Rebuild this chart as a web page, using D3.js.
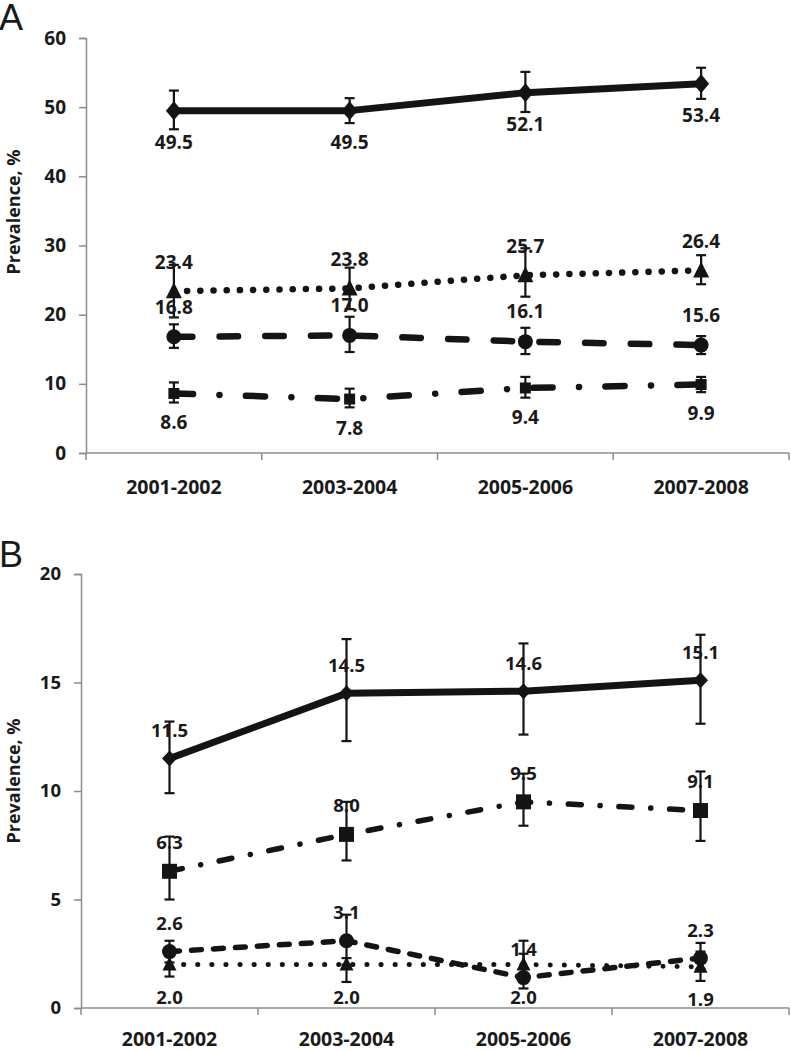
<!DOCTYPE html>
<html><head><meta charset="utf-8">
<script src="https://cdn.jsdelivr.net/npm/d3@7"></script>
<style>
html,body{margin:0;padding:0;background:#fff;}
svg{display:block;}
text{font-family:'Open Sans',sans-serif;font-weight:700;fill:#1a1a1a;}
</style></head>
<body>
<svg id="chart" width="791" height="1050"></svg>
<script>
// ---------- data ----------
const categories = ["2001-2002", "2003-2004", "2005-2006", "2007-2008"];

const ticksA = [0, 10, 20, 30, 40, 50, 60];
const aDiamond   = [49.5, 49.5, 52.1, 53.4];
const aDiamondLo = [46.8, 47.7, 49.3, 51.2];
const aDiamondHi = [52.4, 51.3, 55.1, 55.7];
const aTriangle   = [23.4, 23.8, 25.7, 26.4];
const aTriangleLo = [19.6, 20.8, 22.6, 24.4];
const aTriangleHi = [27.2, 26.8, 29.6, 28.6];
const aCircle   = [16.8, 17.0, 16.1, 15.6];
const aCircleLo = [15.2, 14.6, 14.3, 14.3];
const aCircleHi = [18.6, 19.7, 18.1, 16.9];
const aSquare   = [8.6, 7.8, 9.4, 9.9];
const aSquareLo = [7.3, 6.6, 8.0, 8.8];
const aSquareHi = [10.2, 9.3, 11.0, 11.0];

const ticksB = [0, 5, 10, 15, 20];
const bDiamond   = [11.5, 14.5, 14.6, 15.1];
const bDiamondLo = [9.9, 12.3, 12.6, 13.1];
const bDiamondHi = [13.2, 17.0, 16.8, 17.2];
const bSquare   = [6.3, 8.0, 9.5, 9.1];
const bSquareLo = [5.0, 6.8, 8.4, 7.7];
const bSquareHi = [7.9, 9.5, 10.8, 10.9];
const bCircle   = [2.6, 3.1, 1.4, 2.3];
const bCircleLo = [2.1, 2.0, 0.9, 1.8];
const bCircleHi = [3.1, 4.3, 3.1, 3.0];
const bTriangle   = [2.0, 2.0, 2.0, 1.9];
const bTriangleLo = [1.45, 1.2, 1.5, 1.25];
const bTriangleHi = [2.6, 2.3, 2.5, 2.6];

const yTitle = "Prevalence, %";

// ---------- drawing ----------
const svg = d3.select("#chart");
const INK = "#141414";
const AXIS = "#8c8c8c";

function shapePath(kind, s) {
  const p = d3.path();
  if (kind === "diamond") {
    const w = s.w / 2, h = s.h / 2;
    p.moveTo(0, -h); p.lineTo(w, 0); p.lineTo(0, h); p.lineTo(-w, 0); p.closePath();
  } else if (kind === "triangle") {
    const w = s.w / 2, h = s.h / 2;
    p.moveTo(0, -h - 1); p.lineTo(w, h - 1); p.lineTo(-w, h - 1); p.closePath();
  } else if (kind === "square") {
    const w = s.w / 2;
    p.rect(-w, -w, s.w, s.w);
  } else {
    p.arc(0, 0, s.w / 2, 0, 2 * Math.PI);
  }
  return p.toString();
}

function panel(cfg) {
  const g = svg.append("g");
  const x = d3.scaleBand().domain(categories).range([cfg.left, cfg.right]).padding(0);
  const y = d3.scaleLinear().domain([0, cfg.max]).range([cfg.bottom, cfg.top]);

  // y axis
  const ya = g.append("g").attr("transform", `translate(${cfg.left},0)`)
    .call(d3.axisLeft(y).tickValues(cfg.ticks).tickSize(7).tickPadding(cfg.tickPad).tickFormat(d3.format("d")));
  ya.select(".domain").attr("stroke", AXIS).attr("stroke-width", 1.5);
  ya.selectAll(".tick line").attr("stroke", AXIS).attr("stroke-width", 1.5);
  ya.selectAll(".tick text").attr("font-size", cfg.tickFont).attr("font-family", "'Open Sans',sans-serif")
    .attr("font-weight", 700).attr("fill", "#1a1a1a");

  // x axis (ticks at category boundaries)
  g.append("line").attr("x1", cfg.left).attr("x2", cfg.right).attr("y1", y(0)).attr("y2", y(0))
    .attr("stroke", AXIS).attr("stroke-width", 1.5);
  const edges = categories.map(c => x(c)).concat([x.range()[1]]);
  g.selectAll(".xt").data(edges).enter().append("line")
    .attr("x1", d => d).attr("x2", d => d).attr("y1", y(0)).attr("y2", y(0) + 7)
    .attr("stroke", AXIS).attr("stroke-width", 1.5);
  g.selectAll(".xl").data(categories).enter().append("text")
    .attr("x", d => x(d) + x.bandwidth() / 2).attr("y", y(0) + cfg.xLabelDy)
    .attr("text-anchor", "middle").attr("font-size", 19.5).text(d => d);

  // axis title
  g.append("text").attr("transform", `translate(${cfg.titleX},${cfg.titleY}) rotate(-90)`)
    .attr("text-anchor", "middle").attr("font-size", 18).text(yTitle);

  // panel letter
  g.append("text").attr("x", cfg.letterX).attr("y", cfg.letterY).attr("font-size", 36)
    .style("font-family", "'Liberation Sans',Arial,sans-serif").style("font-weight", 400)
    .attr("fill", "#1a1a1a").text(cfg.letter);

  const cx = c => x(c) + x.bandwidth() / 2;

  // lines
  cfg.series.forEach(s => {
    const line = d3.line().x((d, i) => cx(categories[i])).y(d => y(d));
    g.append("path").datum(s.values).attr("d", line).attr("fill", "none")
      .attr("stroke", INK).attr("stroke-width", s.width)
      .attr("stroke-linecap", s.dash ? "round" : "butt")
      .attr("stroke-linejoin", "round")
      .attr("stroke-dasharray", s.dash || null);
  });

  // markers + error bars
  cfg.series.forEach(s => {
    s.values.forEach((v, i) => {
      g.append("path").attr("d", shapePath(s.marker, s.size))
        .attr("transform", `translate(${cx(categories[i])},${y(v)})`).attr("fill", INK);
    });
  });
  cfg.series.forEach(s => {
    s.values.forEach((v, i) => {
      const xx = cx(categories[i]);
      const eg = g.append("g").attr("stroke", INK).attr("stroke-width", 2.2);
      eg.append("line").attr("x1", xx).attr("x2", xx).attr("y1", y(s.lo[i])).attr("y2", y(s.hi[i]));
      eg.append("line").attr("x1", xx - 5).attr("x2", xx + 5).attr("y1", y(s.lo[i])).attr("y2", y(s.lo[i]));
      eg.append("line").attr("x1", xx - 5).attr("x2", xx + 5).attr("y1", y(s.hi[i])).attr("y2", y(s.hi[i]));
    });
  });

  // data labels
  cfg.series.forEach(s => {
    g.selectAll(null).data(s.values).enter().append("text")
      .attr("x", (d, i) => cx(categories[i]))
      .attr("y", d => y(d) + s.labelDy + cfg.labelFont * 0.36)
      .attr("text-anchor", "middle").attr("font-size", cfg.labelFont)
      .text(d => d.toFixed(1));
  });
}

panel({
  letter: "A", letterX: -1, letterY: 30,
  left: 86, right: 789, top: 38, bottom: 453, max: 60, ticks: ticksA,
  tickPad: 13, tickFont: 19, labelFont: 19, xLabelDy: 41,
  titleX: 20, titleY: 212,
  series: [
    {values: aDiamond, lo: aDiamondLo, hi: aDiamondHi, marker: "diamond", size: {w: 16, h: 19}, width: 7, dash: null, labelDy: 32},
    {values: aTriangle, lo: aTriangleLo, hi: aTriangleHi, marker: "triangle", size: {w: 16, h: 16}, width: 6.5, dash: "0.1,13.1", labelDy: -29},
    {values: aCircle, lo: aCircleLo, hi: aCircleHi, marker: "circle", size: {w: 15}, width: 6.5, dash: "18.5,27.2", labelDy: -30},
    {values: aSquare, lo: aSquareLo, hi: aSquareHi, marker: "square", size: {w: 11}, width: 6.5, dash: "19.2,26.35,0.1,26.35", labelDy: 29}
  ]
});

panel({
  letter: "B", letterX: -1, letterY: 567,
  left: 81, right: 789, top: 574, bottom: 1008, max: 20, ticks: ticksB,
  tickPad: 13, tickFont: 18.5, labelFont: 18.5, xLabelDy: 38,
  titleX: 20, titleY: 781,
  series: [
    {values: bDiamond, lo: bDiamondLo, hi: bDiamondHi, marker: "diamond", size: {w: 15, h: 16}, width: 7, dash: null, labelDy: -28},
    {values: bSquare, lo: bSquareLo, hi: bSquareHi, marker: "square", size: {w: 15}, width: 5.5, dash: "13,18.8,0.1,18.8", labelDy: -29},
    {values: bCircle, lo: bCircleLo, hi: bCircleHi, marker: "circle", size: {w: 15}, width: 5.5, dash: "10,12", labelDy: -28},
    {values: bTriangle, lo: bTriangleLo, hi: bTriangleHi, marker: "triangle", size: {w: 14, h: 14}, width: 5, dash: "0.1,14", labelDy: 33}
  ]
});
</script>
</body></html>
